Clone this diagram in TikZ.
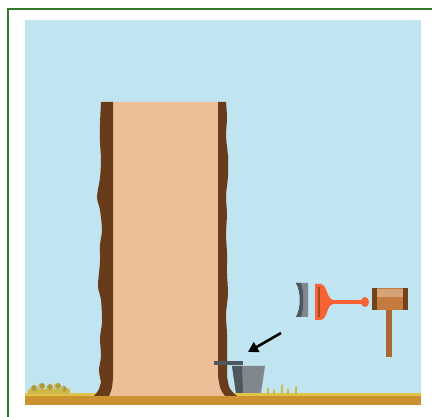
\documentclass[tikz,border=0pt]{standalone}
\usetikzlibrary{arrows.meta}
\definecolor{sky}{RGB}{192,228,240}
\definecolor{trunk}{RGB}{237,191,153}
\definecolor{barkbrown}{RGB}{104,60,26}
\definecolor{ground}{RGB}{204,146,48}
\definecolor{groundtop}{RGB}{222,196,72}
\definecolor{grass}{RGB}{206,184,74}
\definecolor{pail}{RGB}{128,136,142}
\definecolor{paildark}{RGB}{78,86,94}
\definecolor{gouge}{RGB}{246,98,52}
\definecolor{mallet}{RGB}{196,124,62}
\definecolor{malletdark}{RGB}{112,66,30}
\definecolor{framegreen}{RGB}{52,122,44}

\begin{document}
\begin{tikzpicture}[x=1pt,y=-1pt]
\tikzset{bark/.style={fill=barkbrown}, tuft/.style={grass, line width=1.4pt, line cap=round}}
\useasboundingbox (0,0) rectangle (432,417);
\draw[framegreen, line width=1.6pt] (8,417) -- (8,9) -- (432,9);
\fill[sky] (25,20) rectangle (421,397);
% ground strip
\fill[ground] (25,395) rectangle (421,405);
\fill[groundtop] (25,393) rectangle (421,396);

% trunk
\fill[trunk] (108,102) -- (224,102) -- (224,378) .. controls (226,390) .. (234,396)
  -- (97,396) .. controls (105,390) .. (108,378) -- cycle;
\fill[bark] (113,102) -- (113,378) .. controls (112,389) .. (109,396) -- (94,396)
  .. controls (99,390) .. (101,382)
  -- plot[smooth] coordinates {(101,382) (99,370) (101,356) (100,338) (102,322) (101,300)
     (98,286) (100,262) (100,245) (102,230) (100,210) (97,197) (100,178) (101,160)
     (100,142) (100,124) (101,102)} -- cycle;
\fill[bark] (218,102) -- (226,102)
  -- plot[smooth] coordinates {(226,102) (227,118) (226,136) (228,156) (228,176) (226,196)
     (227,214) (226,234) (227,254) (227,274) (228,294) (226,314) (227,334) (227,354) (227,376)}
  .. controls (229,389) .. (237,396) -- (225,396) .. controls (220,389) .. (218,376) -- cycle;

% pail and spout
\fill[paildark] (214,361) rectangle (243,365);
\fill[pail] (232,366) -- (265,366) -- (261,393) -- (236,393) -- cycle;
\fill[paildark] (232,366) -- (242,366) -- (243,393) -- (236,393) -- cycle;
\coordinate (pail) at (248,352);
\coordinate (tools) at (281,333);
\draw[-{Triangle[length=10pt,width=11pt]}, line width=2.6pt] (tools) -- (pail);

% gouge blade
\fill[pail] (296,283) -- (308,283) -- (308,317) -- (296,317)
  .. controls (302,308) and (302,292) .. cycle;
\fill[paildark] (296,283) -- (301,283) .. controls (304,292) and (304,308) .. (301,317)
  -- (296,317) .. controls (301,308) and (301,292) .. cycle;
% scraper
\fill[gouge] (315,284) -- (321,284) .. controls (328,286) and (326,298) .. (333,300)
  -- (333,304) .. controls (326,306) and (328,318) .. (321,320) -- (315,320) -- cycle;
\fill[barkbrown!60!gouge] (318,287) rectangle (320,317);
\fill[gouge] (329,300) rectangle (362,304);
\fill[gouge] (365,302) ellipse (4 and 5);

% mallet
\fill[mallet!85!black] (386,309) rectangle (392,357);
\fill[mallet] (372,288) rectangle (408,310);
\fill[mallet!70!white] (376,289) rectangle (404,297);
\fill[malletdark] (372,288) rectangle (377,310);
\fill[malletdark] (403,288) rectangle (408,310);

% grass tufts
\fill[grass] (28,389) rectangle (70,394);
\foreach \x/\y in {34/388,42/386,50/387,58/386,64/389}
  \fill[grass!85!black] (\x,\y) circle (3);
\foreach \x/\h in {30/5,38/9,46/7,54/10,62/8,68/5}
  \draw[tuft] (\x,394) -- (\x+1,394-\h);
\foreach \x/\h in {268/6,274/4,282/9,288/5,296/7}
  \draw[tuft] (\x,394) -- (\x,394-\h);
\end{tikzpicture}
\end{document}
